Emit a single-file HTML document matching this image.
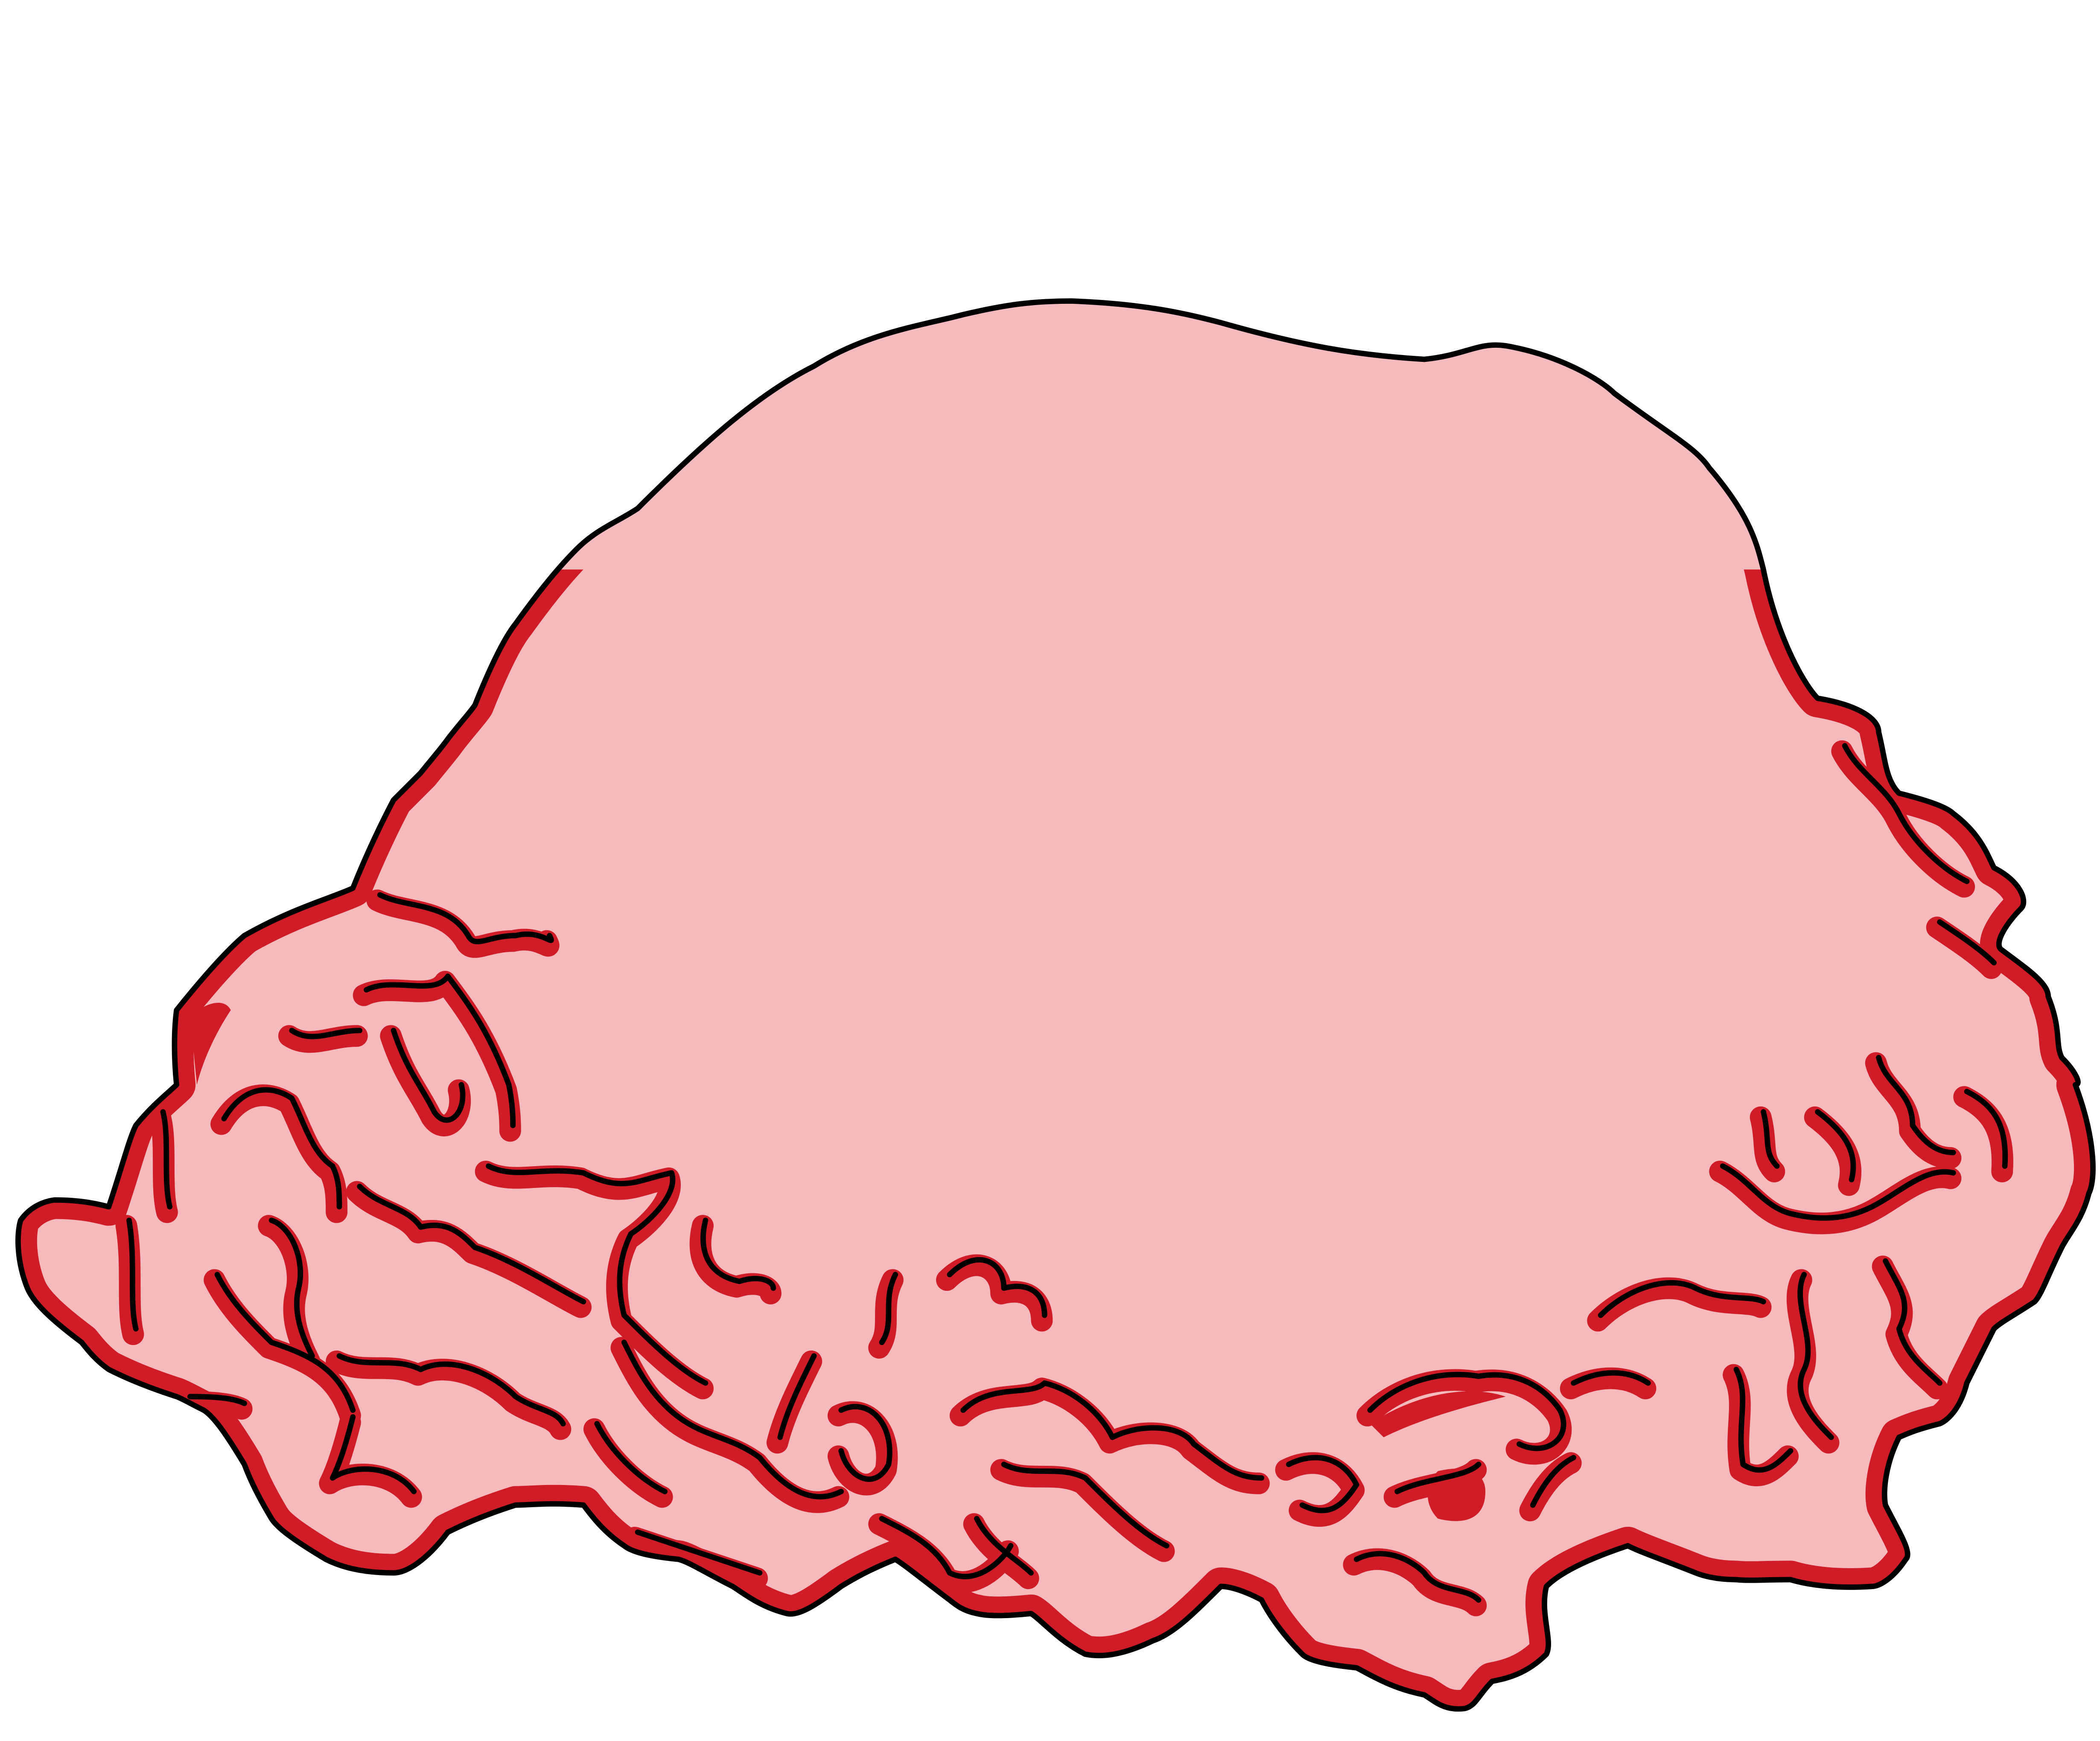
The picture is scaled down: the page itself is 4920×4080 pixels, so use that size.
<!DOCTYPE html>
<html>
<head>
<meta charset="utf-8">
<style>
html,body{margin:0;padding:0;background:#fff;}
svg{display:block;width:4920px;height:4080px;}
</style>
</head>
<body>
<svg viewBox="0 0 1548 1284" xmlns="http://www.w3.org/2000/svg">
<defs>
<path id="outline" d="M425,405 C440,390 455,385 470,375 C520,325 560,290 600,270 C640,245 680,240 710,232 C740,225 760,222 790,222 C840,224 870,230 900,238 C960,255 1000,262 1050,265 C1080,262 1090,252 1110,255 C1150,262 1180,280 1190,290 C1230,320 1250,330 1260,345 C1290,380 1295,400 1300,420 C1310,470 1330,505 1340,515 C1370,520 1385,530 1385,540 C1390,560 1390,575 1400,585 C1420,590 1435,595 1440,600 C1460,615 1465,630 1470,640 C1490,650 1495,665 1490,670 C1480,680 1470,695 1475,700 C1495,715 1510,725 1510,735 C1520,760 1515,770 1520,780 C1530,790 1535,800 1530,800 C1545,840 1545,870 1540,880 C1535,900 1525,910 1520,920 C1510,940 1505,955 1500,960 C1485,970 1475,975 1470,980 C1460,1000 1455,1010 1450,1020 C1445,1040 1435,1048 1430,1050 C1410,1055 1405,1058 1400,1060 C1390,1080 1388,1100 1390,1110 C1400,1130 1410,1145 1405,1150 C1395,1165 1385,1170 1380,1170 C1350,1172 1330,1168 1320,1165 C1300,1165 1290,1166 1280,1165 C1265,1165 1255,1162 1250,1160 C1225,1150 1210,1145 1200,1140 C1170,1150 1150,1160 1140,1170 C1135,1190 1145,1210 1140,1220 C1125,1235 1110,1238 1100,1240 C1090,1250 1088,1258 1080,1260 C1065,1262 1058,1255 1050,1250 C1025,1245 1010,1235 1000,1230 C980,1228 965,1225 960,1220 C945,1205 935,1190 930,1180 C915,1172 905,1170 900,1170 C880,1190 865,1205 850,1210 C825,1222 810,1222 800,1220 C780,1210 768,1195 760,1190 C740,1192 728,1192 720,1190 C710,1188 705,1184 700,1180 C680,1165 668,1155 660,1150 C640,1158 628,1165 620,1170 C600,1185 588,1192 580,1190 C560,1185 548,1175 540,1170 C520,1160 508,1152 500,1150 C480,1148 466,1145 460,1140 C445,1130 436,1118 430,1110 C405,1108 390,1110 380,1110 C355,1118 340,1125 330,1130 C315,1150 300,1160 290,1160 C265,1160 250,1155 240,1150 C220,1138 205,1128 200,1120 C188,1100 183,1088 180,1080 C168,1060 158,1045 150,1040 C140,1035 135,1032 130,1030 C105,1022 90,1015 80,1010 C70,1003 64,995 60,990 C40,975 25,962 20,950 C12,930 12,910 15,900 C22,890 32,886 40,885 C60,885 72,888 80,890 C90,860 95,840 100,830 C112,815 125,805 130,800 C128,780 128,760 130,745 C150,720 168,700 180,690 C215,670 245,662 260,655 C270,630 282,605 290,590 C300,580 306,574 310,570 C318,560 325,552 330,545 C340,532 346,526 350,520 C362,490 372,470 380,460 C398,435 412,418 425,405 Z"/>
<clipPath id="clipShape"><use href="#outline"/></clipPath>
<clipPath id="clipLower"><rect x="0" y="420" width="1548" height="864"/></clipPath>
<g id="crevices">
<path d="M280,660 C300,670 330,665 345,690 C350,700 360,690 380,690 C400,685 410,700 405,690"/>
<path d="M270,730 C290,720 320,735 330,720 C345,740 360,760 375,800 C378,815 378,825 378,830"/>
<path d="M290,760 C300,790 310,800 320,820 C330,835 345,820 340,800"/>
<path d="M215,760 C230,770 245,760 265,760"/>
<path d="M165,825 C180,800 200,800 215,810 C225,830 230,850 245,860 C250,870 250,880 250,890"/>
<path d="M120,820 C125,840 120,870 125,890"/>
<path d="M95,900 C100,930 95,960 100,980"/>
<path d="M160,940 C170,960 185,975 200,990 C230,1000 250,1010 260,1040"/>
<path d="M265,875 C280,890 300,890 310,905 C330,900 340,910 350,920 C380,930 410,950 430,960"/>
<path d="M360,860 C380,870 400,860 430,865 C460,880 470,870 495,865 C500,880 480,900 465,910 C455,930 455,950 460,970 C480,990 500,1010 520,1020"/>
<path d="M200,900 C215,905 225,930 220,950 C215,970 225,990 230,1000"/>
<path d="M250,1000 C270,1010 290,1000 310,1010 C330,1000 360,1010 380,1030 C395,1040 410,1040 415,1050"/>
<path d="M260,1045 C255,1065 250,1080 245,1090 C260,1080 290,1080 305,1100"/>
<path d="M140,1030 C150,1030 170,1030 180,1035"/>
<path d="M460,990 C470,1010 480,1030 500,1045 C520,1060 540,1060 560,1075 C580,1100 600,1110 620,1100"/>
<path d="M600,1000 C590,1020 580,1040 575,1060"/>
<path d="M440,1050 C450,1070 470,1090 490,1100"/>
<path d="M470,1130 C500,1140 530,1150 560,1160"/>
<path d="M620,1040 C640,1030 660,1050 655,1080 C645,1100 625,1090 620,1070"/>
<path d="M650,1120 C670,1130 690,1140 700,1160 C720,1170 740,1150 745,1140"/>
<path d="M700,940 C720,920 740,930 740,950 C760,945 770,955 770,970"/>
<path d="M660,940 C650,960 660,975 650,990"/>
<path d="M710,1040 C730,1020 760,1030 770,1020 C790,1025 810,1040 820,1060 C840,1050 870,1050 880,1065 C900,1080 910,1090 930,1090"/>
<path d="M740,1080 C760,1090 780,1080 800,1090 C820,1110 840,1130 860,1140"/>
<path d="M720,1120 C730,1140 750,1150 760,1160"/>
<path d="M520,900 C515,920 520,940 545,945 C560,940 570,945 570,950"/>
<path d="M1010,1040 C1030,1020 1060,1010 1090,1015 C1120,1010 1140,1025 1150,1040 C1160,1060 1140,1075 1120,1065"/>
<path d="M950,1080 C970,1070 990,1075 1000,1095 C990,1110 980,1120 960,1110"/>
<path d="M1000,1150 C1020,1140 1040,1150 1050,1160 C1060,1175 1080,1170 1090,1180"/>
<path d="M1030,1100 C1050,1090 1080,1090 1090,1080"/>
<path d="M1130,1110 C1140,1090 1150,1080 1160,1075"/>
<path d="M1180,970 C1200,950 1230,940 1250,950 C1270,960 1290,955 1300,960"/>
<path d="M1160,1020 C1180,1010 1200,1010 1215,1020"/>
<path d="M1280,1010 C1290,1030 1280,1050 1285,1080 C1300,1090 1310,1080 1320,1070"/>
<path d="M1330,940 C1320,960 1340,990 1330,1010 C1320,1030 1340,1050 1350,1060"/>
<path d="M1270,860 C1290,870 1300,890 1320,895 C1340,900 1360,900 1380,890 C1400,880 1420,860 1440,865"/>
<path d="M1300,820 C1305,840 1300,850 1310,860"/>
<path d="M1340,820 C1360,835 1370,850 1365,870"/>
<path d="M1385,780 C1390,800 1410,805 1410,830 C1420,845 1430,850 1440,850"/>
<path d="M1450,805 C1470,815 1480,830 1478,860"/>
<path d="M1390,930 C1400,950 1410,960 1400,980 C1405,1000 1420,1010 1430,1020"/>
<path d="M1360,550 C1370,570 1390,580 1400,600 C1410,620 1430,640 1450,650"/>
<path d="M1430,680 C1445,690 1460,700 1470,710"/>
</g>
</defs>
<g stroke-linejoin="round" stroke-linecap="round">
<use href="#outline" fill="#f4babd"/>
<g clip-path="url(#clipShape)">
<g clip-path="url(#clipLower)">
<use href="#outline" fill="none" stroke="#cf1c27" stroke-width="28"/>
</g>
<g fill="#cf1c27">
<path d="M522,895 C515,920 520,940 545,945 C565,948 572,945 570,950 C540,955 515,945 518,915 Z"/>
<path d="M1060,1085 C1080,1080 1095,1085 1095,1100 C1095,1120 1080,1125 1060,1120 C1050,1110 1050,1095 1060,1085 Z"/>
<path d="M1010,1050 C1040,1030 1080,1020 1110,1030 C1090,1035 1050,1045 1020,1060 Z"/>
<path d="M140,750 C150,740 165,735 170,745 C160,760 150,780 145,800 Z"/>
</g>
<g transform="translate(-2,4)">
<use href="#crevices" fill="none" stroke="#cf1c27" stroke-width="16"/>
</g>
</g>
<use href="#crevices" fill="none" stroke="#000" stroke-width="4"/>
<use href="#outline" fill="none" stroke="#000" stroke-width="4"/>
</g>
</svg>
</body>
</html>
